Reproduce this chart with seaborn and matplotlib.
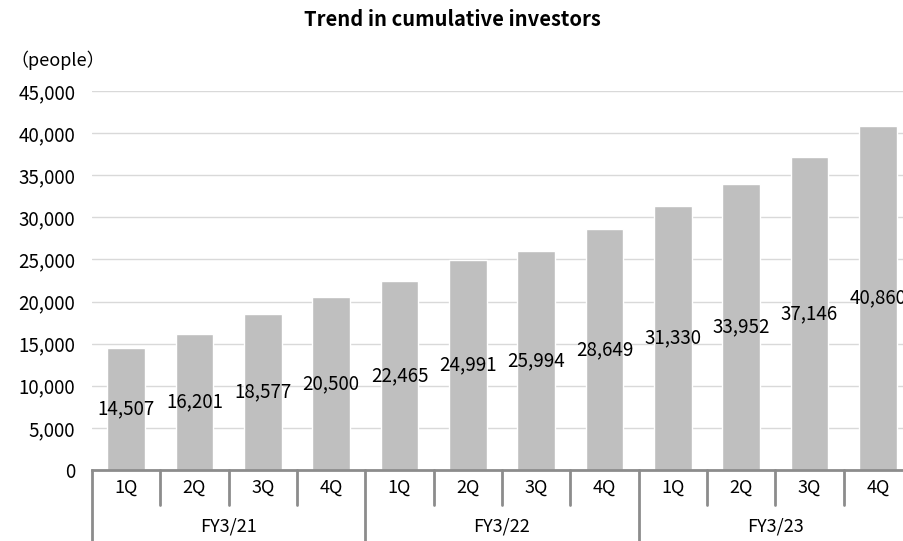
import pandas as pd
import matplotlib.pyplot as plt
import seaborn as sns

sns.set_theme(style="white")
plt.rcParams['font.family'] = ['Noto Sans CJK JP', 'DejaVu Sans']
plt.rcParams['text.color'] = 'black'
plt.rcParams['xtick.color'] = 'black'
plt.rcParams['ytick.color'] = 'black'

years = ["FY3/21", "FY3/22", "FY3/23"]
quarters = ["1Q", "2Q", "3Q", "4Q"]
investors = [14507, 16201, 18577, 20500,
             22465, 24991, 25994, 28649,
             31330, 33952, 37146, 40860]
y_ticks = [0, 5000, 10000, 15000, 20000, 25000, 30000, 35000, 40000, 45000]


def build_frame():
    periods = [f"{y} {q}" for y in years for q in quarters]
    return pd.DataFrame({"period": periods, "investors": investors})


def plot_investors(df):
    fig = plt.figure(figsize=(9.04, 5.41), dpi=100)
    ax = fig.add_axes([92 / 904, 71 / 541, 820 / 904, 379 / 541])

    sns.barplot(data=df, x="period", y="investors", color="#BFBFBF",
                width=0.55, saturation=1, ax=ax, order=df["period"])

    ax.set_xlim(-0.5, len(df) - 0.5)
    ax.set_ylim(0, 45000)
    ax.set_yticks(y_ticks)
    ax.set_yticklabels([f"{v:,}" for v in y_ticks], fontsize=13.5)
    ax.tick_params(axis="y", length=0, pad=12)
    ax.yaxis.grid(True, color="#D9D9D9", linewidth=1)
    ax.set_axisbelow(True)
    ax.set_xticks([])
    ax.set_xlabel("")
    ax.set_ylabel("")
    for side in ["top", "right", "left"]:
        ax.spines[side].set_visible(False)
    ax.spines["bottom"].set_color("#8C8C8C")
    ax.spines["bottom"].set_linewidth(2)

    # value labels in the middle of each bar
    for i, v in enumerate(df["investors"]):
        ax.text(i, v / 2, f"{v:,}", ha="center", va="center", fontsize=13.5)

    # two-level category axis
    trans = ax.get_xaxis_transform()
    for i in range(len(df) + 1):
        low = -0.187 if i % 4 == 0 else -0.092
        ax.plot([i - 0.5, i - 0.5], [0, low], transform=trans,
                color="#8C8C8C", linewidth=2, clip_on=False)
    for i, p in enumerate(df["period"]):
        ax.text(i, -0.0475, p.split()[1], transform=trans,
                ha="center", va="center", fontsize=13)
    for j, y in enumerate(years):
        ax.text(j * 4 + 1.5, -0.150, y, transform=trans,
                ha="center", va="center", fontsize=13)

    fig.text(0.5, 1 - 20 / 541, "Trend in cumulative investors",
             ha="center", va="center", fontsize=14.5, weight="bold")
    fig.text(10 / 904, 1 - 60 / 541, "（people）", ha="left", va="center",
             fontsize=13)

    fig.savefig("out.png", dpi=100)
    plt.close(fig)


if __name__ == "__main__":
    plot_investors(build_frame())
